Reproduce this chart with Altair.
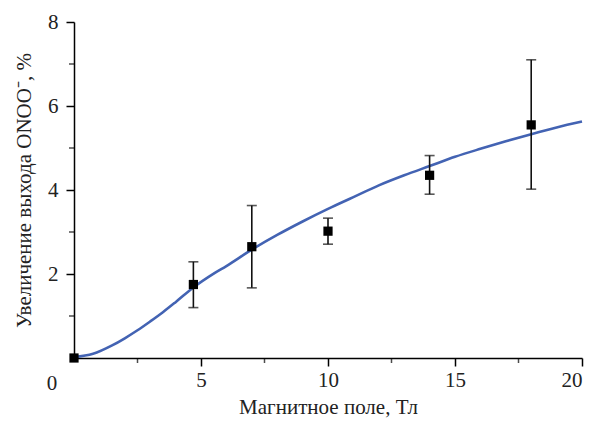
import altair as alt
import pandas as pd

# measured points
field_pts = [0, 4.7, 7.0, 10.0, 14.0, 18.0]
yield_pts = [0.0, 1.75, 2.65, 3.02, 4.35, 5.55]
err_lo = [None, 1.20, 1.67, 2.71, 3.90, 4.02]
err_hi = [None, 2.29, 3.63, 3.33, 4.82, 7.10]

# fitted curve
curve_x = [0, 0.75, 1.5, 2.0, 2.5, 3.0, 3.5, 4.0, 4.7, 5.5, 6.0, 7.0, 8.0, 9.0, 10.0,
           11.0, 12.0, 13.0, 14.0, 15.0, 16.0, 17.0, 18.0, 19.0, 20.0]
curve_y = [0.02, 0.10, 0.30, 0.47, 0.66, 0.87, 1.09, 1.33, 1.68, 2.01, 2.19, 2.58, 2.93,
           3.25, 3.55, 3.83, 4.11, 4.35, 4.57, 4.79, 4.98, 5.16, 5.33, 5.49, 5.63]

x_major = [5, 10, 15, 20]
x_minor = [2.5, 7.5, 12.5, 17.5]
y_major = [2, 4, 6, 8]
y_minor = [1, 3, 5, 7]
origin_label = ["0"]

x_title = "Магнитное поле, Тл"
y_title = "Увеличение выхода ONOO⁻, %"

pts = pd.DataFrame({"x": field_pts, "y": yield_pts, "lo": err_lo, "hi": err_hi})
err = pts.dropna()
curve = pd.DataFrame({"x": curve_x, "y": curve_y})
xmin = pd.DataFrame({"v": x_minor, "z": 0})
ymin = pd.DataFrame({"v": y_minor, "z": 0})
origin_df = pd.DataFrame({"x": [0], "y": [0], "t": origin_label})

FONT = "Liberation Serif"
INK = "#000000"

x_scale = alt.Scale(domain=[0, 20], nice=False, zero=False)
y_scale = alt.Scale(domain=[0, 8], nice=False, zero=False)

axis_style = dict(
    domain=True, domainColor=INK, domainWidth=1.5,
    ticks=True, tickColor=INK, tickWidth=1.5, tickSize=8,
    labelFont=FONT, titleFont=FONT, labelFontSize=21, titleFontSize=21,
    labelColor="#222222", titleColor="#222222", titleFontWeight="normal",
    grid=False,
)
x_axis = alt.Axis(title=x_title, values=x_major, labelPadding=3, titlePadding=6,
                  **axis_style)
y_axis = alt.Axis(title=y_title, values=y_major, labelPadding=8, titlePadding=13,
                  **axis_style)

line = alt.Chart(curve).mark_line(
    color="#4363b3", strokeWidth=2.6, interpolate="monotone"
).encode(
    x=alt.X("x:Q", scale=x_scale, axis=x_axis),
    y=alt.Y("y:Q", scale=y_scale, axis=y_axis),
)

# minor ticks (outside the axes)
xt_minor = alt.Chart(xmin).mark_tick(color=INK, thickness=1.5, size=5, yOffset=2.5,
                                     orient="vertical", clip=False).encode(
    x="v:Q", y="z:Q")
yt_minor = alt.Chart(ymin).mark_tick(color=INK, thickness=1.5, size=5, xOffset=-2.5,
                                     orient="horizontal", clip=False).encode(
    y="v:Q", x="z:Q")

# shared origin label "0"
origin = alt.Chart(origin_df).mark_text(
    font=FONT, fontSize=21, color="#222222", align="center", baseline="middle",
    dx=-22, dy=26,
).encode(x="x:Q", y="y:Q", text="t:N")

bars = alt.Chart(err).mark_rule(color="#111111", strokeWidth=1.6).encode(
    x="x:Q", y="lo:Q", y2="hi:Q",
)
cap_lo = alt.Chart(err).mark_tick(color="#111111", thickness=1.6, size=10,
                                  orient="horizontal").encode(x="x:Q", y="lo:Q")
cap_hi = alt.Chart(err).mark_tick(color="#111111", thickness=1.6, size=10,
                                  orient="horizontal").encode(x="x:Q", y="hi:Q")
squares = alt.Chart(pts).mark_square(color="black", opacity=1, size=85,
                                     clip=False).encode(x="x:Q", y="y:Q")

chart = alt.layer(
    line, xt_minor, yt_minor, origin, bars, cap_lo, cap_hi, squares,
).properties(
    width=508, height=336,
    autosize=alt.AutoSizeParams(type="none"),
    padding={"left": 74, "top": 22, "right": 13, "bottom": 67},
    background="white",
).configure(font=FONT).configure_view(strokeWidth=0)

chart.save("out.html", embed_options={"renderer": "svg", "actions": False})
